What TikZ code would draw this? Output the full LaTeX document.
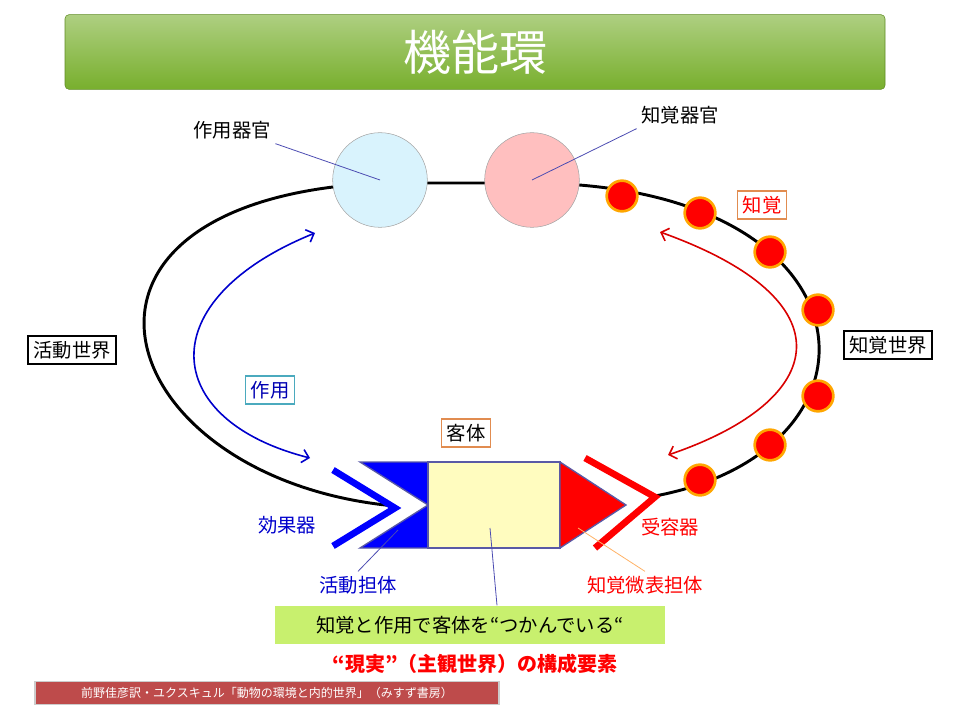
\documentclass[tikz,border=0pt]{standalone}
\usepackage{fontspec}
\setmainfont{Noto Sans CJK JP}
\usetikzlibrary{arrows.meta}
\definecolor{titlegreen}{RGB}{120,175,45}
\definecolor{orgbox}{RGB}{225,140,80}
\definecolor{cyanbox}{RGB}{75,170,190}
\definecolor{gbox}{RGB}{200,240,110}
\definecolor{cite}{RGB}{190,75,75}
\begin{document}
\begin{tikzpicture}[x=0.75pt,y=-0.75pt]
    \tikzset{lab/.style={font=\fontsize{14.5}{16}\selectfont},
    tag/.style={lab,draw,line width=1.2pt,fill=white,inner sep=4pt},
    dot/.style={circle,fill=red,draw=orange!70!yellow,line width=2pt,minimum size=23pt,inner sep=0pt},
    organ/.style={circle,minimum size=71pt,draw=gray!70,inner sep=0pt},
    pin/.style={draw=blue!40!gray,line width=0.6pt}}
    \useasboundingbox (0,0) rectangle (960,720);
    \node[rounded corners=3pt,top color=titlegreen!60!white,bottom color=titlegreen,draw=titlegreen!80!black,
      minimum width=615pt,minimum height=56pt,text=white,font=\fontsize{36}{40}\selectfont] (title) at (475,52) {機能環};%title bar
    % loop
    \draw[line width=2.2pt] (395,506) .. controls (110,480) and (20,200) .. (380,183)
      -- (532,183) .. controls (880,185) and (900,450) .. (655,496);
    \node[organ,fill=cyan!15] (act) at (380,180) {};
    \node[organ,fill=red!25] (perc) at (532,180) {};
    \foreach \p [count=\i] in {(622,196),(700,213),(770,252),(818,310),(818,396),(770,445),(700,480)}
      \node[dot] (d\i) at \p {};
    \node[lab] (actlab) at (232,130) {作用器官};
    \node[lab] (perclab) at (680,115) {知覚器官};
    \draw[pin] (actlab.south east) -- (act.center);
    \draw[pin] (perclab.south west) -- (perc.center);
    \node[tag,draw=orgbox,text=red] (perceive) at (762,205) {知覚};
    \node[tag,draw=black] (pworld) at (888,345) {知覚世界};
    \node[tag,draw=black] (aworld) at (72,350) {活動世界};
    \node[tag,draw=cyanbox,text=blue!70!black] (effect) at (270,390) {作用};
    \node[tag,draw=orgbox] (obj) at (466,433) {客体};
    % arrows
    \coordinate (bt) at (315,233); \coordinate (bb) at (310,458);
    \coordinate (rt) at (660,232); \coordinate (rb) at (668,455);
    \draw[{Straight Barb[length=5pt]}-{Straight Barb[length=5pt]},blue!80!black,line width=1.2pt]
      (bt) .. controls (150,300) and (160,420) .. (bb);
    \draw[{Straight Barb[length=5pt]}-{Straight Barb[length=5pt]},red!85!black,line width=1.2pt]
      (rt) .. controls (850,300) and (830,400) .. (rb);
    % object
    \draw[draw=gray!70!blue,line width=1pt,fill=blue] (360,462) -- (428,462) -- (428,505) -- cycle;
    \draw[draw=gray!70!blue,line width=1pt,fill=blue] (360,548) -- (428,548) -- (428,505) -- cycle;
    \draw[draw=gray!70!blue,line width=1pt,fill=yellow!25] (428,462) rectangle (560,548);
    \draw[draw=gray!70!blue,line width=1pt,fill=red] (560,462) -- (626,505) -- (560,548) -- cycle;
    \coordinate (bluepart) at (398,530); \coordinate (yellowpart) at (490,528); \coordinate (redpart) at (578,528);
    \draw[blue,line width=5pt] (333,470) -- (395,508) -- (333,546);
    \draw[red,line width=5pt] (585,458) -- (655,497) -- (595,548);
    \node[lab,text=blue!80!black] (effector) at (287,525) {効果器};
    \node[lab,text=red] (receptor) at (670,527) {受容器};
    \node[lab,text=blue!80!black] (carrier) at (358,585) {活動担体};
    \node[lab,text=red] (mark) at (645,585) {知覚微表担体};
    \node[lab,fill=gbox,minimum width=292pt,minimum height=29pt] (grasp) at (470,625) {知覚と作用で客体を“つかんでいる“};
    \draw[pin] (carrier.north) -- (bluepart);
    \draw[pin] (grasp.north) ++(27,0) -- (yellowpart);
    \draw[draw=orange!60,line width=0.6pt] (mark.north) -- (redpart);
    \node[text=red,font=\fontsize{15}{17}\bfseries\selectfont] (real) at (475,664) {“現実”（主観世界）の構成要素};
    \node[fill=cite,text=white,font=\fontsize{9}{10}\selectfont,minimum width=348pt,minimum height=17pt,
      draw=gray!40,line width=1pt] (src) at (267,693) {前野佳彦訳・ユクスキュル「動物の環境と内的世界」（みすず書房）};
\end{tikzpicture}
\end{document}
